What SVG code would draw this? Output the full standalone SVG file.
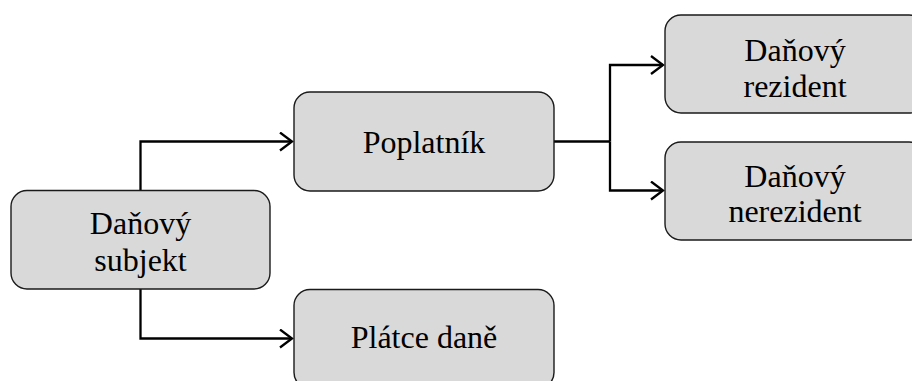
<svg xmlns="http://www.w3.org/2000/svg" width="912" height="381" viewBox="0 0 912 381">
<defs>
<style>
.box{fill:#d9d9d9;stroke:#1a1a1a;stroke-width:1.4}
.t{font-family:'Liberation Serif','Times New Roman',serif;font-size:32px;fill:#000;text-anchor:middle}
.c{fill:none;stroke:#000;stroke-width:2.3}
</style>
<marker id="arr" markerWidth="16" markerHeight="22" refX="13" refY="10" orient="auto" markerUnits="userSpaceOnUse">
<path d="M1,1 L13,10 L1,19" fill="none" stroke="#000" stroke-width="2.3"/>
</marker>
</defs>
<g id="connectors">
<path class="c" d="M140.5,190.5 V141.5 H292" marker-end="url(#arr)"/>
<path class="c" d="M140.5,289 V338.5 H292" marker-end="url(#arr)"/>
<path class="c" d="M554,141.5 H610"/>
<path class="c" d="M610,141.5 V65 H663" marker-end="url(#arr)"/>
<path class="c" d="M610,141.5 V190.5 H663" marker-end="url(#arr)"/>
</g>
<g id="subjekt">
<rect class="box" x="11" y="190.5" width="259" height="98.5" rx="16"/>
<text class="t" x="140.5" y="234">Daňový</text>
<text class="t" x="140.5" y="270.5">subjekt</text>
</g>
<g id="poplatnik">
<rect class="box" x="294" y="92" width="260" height="99" rx="16"/>
<text class="t" x="424" y="152.5">Poplatník</text>
</g>
<g id="platce">
<rect class="box" x="294" y="289.5" width="260" height="99" rx="16"/>
<text class="t" x="424" y="348">Plátce daně</text>
</g>
<g id="rezident">
<rect class="box" x="665" y="15" width="260" height="98" rx="16"/>
<text class="t" x="795" y="61">Daňový</text>
<text class="t" x="795" y="96.5">rezident</text>
</g>
<g id="nerezident">
<rect class="box" x="665" y="142" width="260" height="98" rx="16"/>
<text class="t" x="795" y="186.5">Daňový</text>
<text class="t" x="795" y="221.5">nerezident</text>
</g>
</svg>
